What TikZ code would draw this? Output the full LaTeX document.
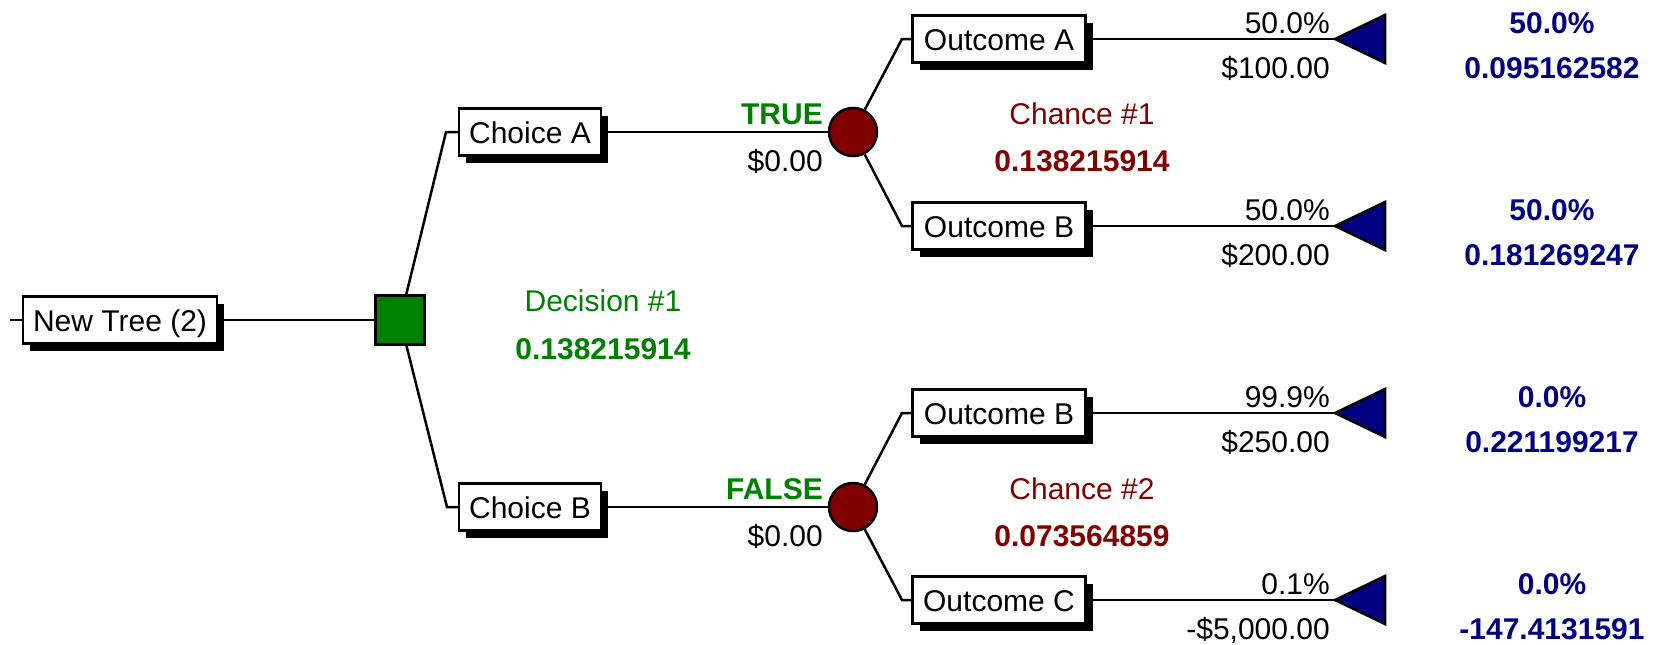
\documentclass[tikz,border=0pt]{standalone}
\usepackage{fontspec}
\setmainfont{Liberation Sans}
\usetikzlibrary{shadows}
\definecolor{tgreen}{RGB}{0,128,0}
\definecolor{tred}{RGB}{128,0,0}
\definecolor{tblue}{RGB}{0,0,128}
\begin{document}
\begin{tikzpicture}[x=1pt,y=-1pt,
  fs/.style={font=\fontsize{30}{36}\selectfont},
  fsb/.style={font=\fontsize{30}{36}\selectfont\bfseries},
  box/.style={draw, line width=2.5pt, fill=white, minimum height=47pt, inner sep=0pt, fs,
    text height=22pt, text depth=0pt,
    drop shadow={shadow xshift=7pt,shadow yshift=-7pt,fill=black,opacity=1}},
  lbl/.style={inner sep=0pt, fs, text height=22pt, text depth=0pt},
  blbl/.style={inner sep=0pt, fsb, text height=22pt, text depth=0pt},
  conn/.style={line width=2.5pt},
  decnode/.style={draw, line width=2.5pt, fill=tgreen, minimum size=49pt, inner sep=0pt},
  chnode/.style={circle, draw, line width=2.5pt, fill=tred, minimum size=48pt, inner sep=0pt},
  endtri/.style={draw, line width=2.5pt, fill=tblue, line join=miter}
]
\useasboundingbox (0,0) rectangle (1657,645);

% nodes
\node[box, minimum width=194pt] (root) at (120,320) {New Tree (2)};
\node[decnode] (sq) at (400,320) {};
\node[box, minimum width=142pt] (chA) at (530,132) {Choice A};
\node[box, minimum width=142pt] (chB) at (530,507) {Choice B};
\node[chnode] (c1) at (853,132) {};
\node[chnode] (c2) at (853,507) {};
\node[box, minimum width=173pt] (oA) at (999,39) {Outcome A};
\node[box, minimum width=173pt] (oB) at (999,226) {Outcome B};
\node[box, minimum width=173pt] (oB2) at (999,413) {Outcome B};
\node[box, minimum width=173pt] (oC) at (999,600) {Outcome C};

% coordinates
\coordinate (rt) at (10,320);
\coordinate (eA) at (446,132);
\coordinate (eB) at (447,507);
\coordinate (e1) at (902,39);
\coordinate (e2) at (902,226);
\coordinate (e3) at (902,413);
\coordinate (e4) at (902,600);
\coordinate (t1) at (1335,39);
\coordinate (t2) at (1335,226);
\coordinate (t3) at (1335,413);
\coordinate (t4) at (1335,600);

% connectors
\draw[conn] (rt) -- (root.west);
\draw[conn] (root.east) -- (sq.west);
\draw[conn] (sq) -- (eA) -- (chA.west);
\draw[conn] (sq) -- (eB) -- (chB.west);
\draw[conn] (chA.east) -- (c1.west);
\draw[conn] (chB.east) -- (c2.west);
\draw[conn] (c1) -- (e1) -- (oA.west);
\draw[conn] (c1) -- (e2) -- (oB.west);
\draw[conn] (c2) -- (e3) -- (oB2.west);
\draw[conn] (c2) -- (e4) -- (oC.west);
\draw[conn] (oA.east) -- (t1);
\draw[conn] (oB.east) -- (t2);
\draw[conn] (oB2.east) -- (t3);
\draw[conn] (oC.east) -- (t4);

% end triangles
\foreach \t in {t1,t2,t3,t4}
  \draw[endtri] (\t) -- ++(50,-24) -- ++(0,48) -- cycle;

% decision labels
\node[lbl, text=tgreen] (dl) at (603,300) {Decision \#1};
\node[blbl, text=tgreen] (dv) at (603,348) {0.138215914};
\node[blbl, text=tgreen, anchor=east] (tl) at (823,113) {TRUE};
\node[lbl, anchor=east] (tv) at (823,160) {\$0.00};
\node[blbl, text=tgreen, anchor=east] (fl) at (823,488) {FALSE};
\node[lbl, anchor=east] (fv) at (823,535) {\$0.00};

% chance labels
\node[lbl, text=tred] (ch1l) at (1082,113) {Chance \#1};
\node[blbl, text=tred] (ch1v) at (1082,160) {0.138215914};
\node[lbl, text=tred] (ch2l) at (1082,488) {Chance \#2};
\node[blbl, text=tred] (ch2v) at (1082,535) {0.073564859};

% branch probabilities and values
\node[lbl, anchor=east] (p1) at (1330,22) {50.0\%};
\node[lbl, anchor=east] (v1) at (1330,67) {\$100.00};
\node[lbl, anchor=east] (p2) at (1330,209) {50.0\%};
\node[lbl, anchor=east] (v2) at (1330,254) {\$200.00};
\node[lbl, anchor=east] (p3) at (1330,396) {99.9\%};
\node[lbl, anchor=east] (v3) at (1330,441) {\$250.00};
\node[lbl, anchor=east] (p4) at (1330,583) {0.1\%};
\node[lbl, anchor=east] (v4) at (1330,628) {-\$5,000.00};

% end results
\node[blbl, text=tblue] (r1) at (1552,22) {50.0\%};
\node[blbl, text=tblue] (s1) at (1552,67) {0.095162582};
\node[blbl, text=tblue] (r2) at (1552,209) {50.0\%};
\node[blbl, text=tblue] (s2) at (1552,254) {0.181269247};
\node[blbl, text=tblue] (r3) at (1552,396) {0.0\%};
\node[blbl, text=tblue] (s3) at (1552,441) {0.221199217};
\node[blbl, text=tblue] (r4) at (1552,583) {0.0\%};
\node[blbl, text=tblue] (s4) at (1552,628) {-147.4131591};
\end{tikzpicture}
\end{document}
